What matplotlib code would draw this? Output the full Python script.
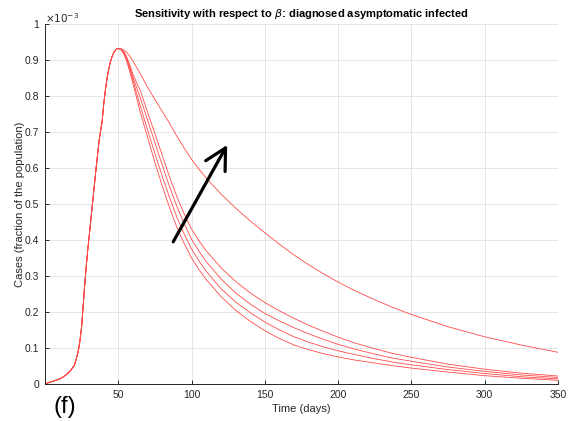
import matplotlib
matplotlib.use("Agg")
import matplotlib.pyplot as plt
from matplotlib.ticker import FuncFormatter

plt.rcParams["font.family"] = ["Liberation Sans", "DejaVu Sans"]

# shared rising branch (days, cases x 1e-3)
t_rise = [0, 2, 5, 8, 11, 14, 16, 18, 20, 21, 22, 23, 24, 25, 26, 27, 28, 29,
          30, 31, 32, 33, 34, 35, 36, 37, 38, 39, 40, 41, 42, 43, 44, 45, 46,
          47, 48, 49]
y_rise = [0.0, 0.003, 0.007, 0.011, 0.016, 0.024, 0.031, 0.040, 0.052, 0.065,
          0.080, 0.098, 0.125, 0.160, 0.215, 0.270, 0.320, 0.365, 0.405, 0.445,
          0.485, 0.525, 0.565, 0.605, 0.642, 0.678, 0.705, 0.730, 0.775, 0.810,
          0.840, 0.865, 0.885, 0.900, 0.912, 0.921, 0.927, 0.931]

# decaying branch, one series per beta value
t_decay = [50, 52, 54, 56, 58, 60, 65, 70, 75, 80, 85, 90, 95, 100, 105, 110,
           120, 130, 140, 150, 160, 170, 180, 190, 200, 212, 225, 237, 250,
           275, 300, 325, 350]
y_beta1 = [0.932, 0.928, 0.915, 0.893, 0.865, 0.835, 0.755, 0.685, 0.615, 0.550,
           0.490, 0.435, 0.390, 0.350, 0.318, 0.290, 0.243, 0.205, 0.174, 0.148,
           0.126, 0.108, 0.095, 0.084, 0.075, 0.066, 0.058, 0.051, 0.044, 0.033,
           0.023, 0.016, 0.010]
y_beta2 = [0.932, 0.929, 0.918, 0.898, 0.872, 0.843, 0.772, 0.705, 0.640, 0.577,
           0.518, 0.463, 0.416, 0.375, 0.342, 0.313, 0.265, 0.228, 0.198, 0.172,
           0.150, 0.131, 0.116, 0.103, 0.092, 0.081, 0.070, 0.061, 0.053, 0.040,
           0.029, 0.020, 0.014]
y_beta3 = [0.932, 0.929, 0.920, 0.902, 0.878, 0.852, 0.795, 0.733, 0.670, 0.608,
           0.548, 0.493, 0.445, 0.402, 0.369, 0.340, 0.292, 0.253, 0.222, 0.196,
           0.175, 0.156, 0.139, 0.124, 0.110, 0.096, 0.083, 0.072, 0.063, 0.047,
           0.035, 0.025, 0.018]
y_beta4 = [0.932, 0.930, 0.922, 0.906, 0.885, 0.860, 0.815, 0.755, 0.695, 0.635,
           0.575, 0.520, 0.472, 0.430, 0.398, 0.370, 0.323, 0.285, 0.253, 0.226,
           0.203, 0.182, 0.163, 0.146, 0.130, 0.113, 0.098, 0.085, 0.074, 0.055,
           0.041, 0.030, 0.022]
y_beta5 = [0.932, 0.931, 0.927, 0.920, 0.910, 0.897, 0.862, 0.824, 0.790, 0.757,
           0.724, 0.688, 0.655, 0.624, 0.597, 0.572, 0.528, 0.489, 0.453, 0.420,
           0.388, 0.358, 0.331, 0.306, 0.283, 0.258, 0.234, 0.213, 0.193, 0.159,
           0.131, 0.108, 0.088]

x_ticks = [50, 100, 150, 200, 250, 300, 350]
y_ticks = [0, 0.1, 0.2, 0.3, 0.4, 0.5, 0.6, 0.7, 0.8, 0.9, 1.0]

grey = "#262626"

fig = plt.figure(figsize=(5.77, 4.21), dpi=100)
ax = fig.add_axes([0.078, 0.088, 0.889, 0.855])

for y_dec in [y_beta1, y_beta2, y_beta3, y_beta4, y_beta5]:
    ax.plot(t_rise + t_decay, y_rise + y_dec, color="#ff4a4a", lw=0.6)

# arrow: increasing beta
ax.annotate("", xy=(124.3, 0.664), xytext=(87.5, 0.395),
            arrowprops=dict(arrowstyle="->, head_length=0.75, head_width=0.4",
                            color="black", lw=2.3, mutation_scale=20,
                            shrinkA=0, shrinkB=0))

ax.set_xlim(0, 350)
ax.set_ylim(0, 1.0)
ax.set_xticks(x_ticks)
ax.set_yticks(y_ticks)
ax.yaxis.set_major_formatter(FuncFormatter(lambda v, p: f"{v:g}"))
ax.grid(True, color="#e6e6e6", lw=0.7)
ax.set_axisbelow(True)
for s in ["top", "right"]:
    ax.spines[s].set_visible(False)
for s in ["left", "bottom"]:
    ax.spines[s].set_color(grey)
    ax.spines[s].set_linewidth(0.7)
ax.tick_params(direction="in", length=3, width=0.7, colors=grey,
               labelsize=7.5, pad=4)

ax.set_title(r"Sensitivity with respect to $\beta$: diagnosed asymptomatic infected",
             fontsize=8, fontweight="bold", pad=5)
ax.set_xlabel("Time (days)", fontsize=8, color=grey, labelpad=3)
ax.set_ylabel("Cases (fraction of the population)", fontsize=8, color=grey,
              labelpad=0)
ax.text(0.0, 0.998, r"$\times10^{-3}$", transform=ax.transAxes, fontsize=7.5,
        color=grey, ha="left", va="bottom")
fig.text(0.093, 0.033, "(f)", fontsize=17, va="center", ha="left")

fig.savefig("out.png", dpi=100)
